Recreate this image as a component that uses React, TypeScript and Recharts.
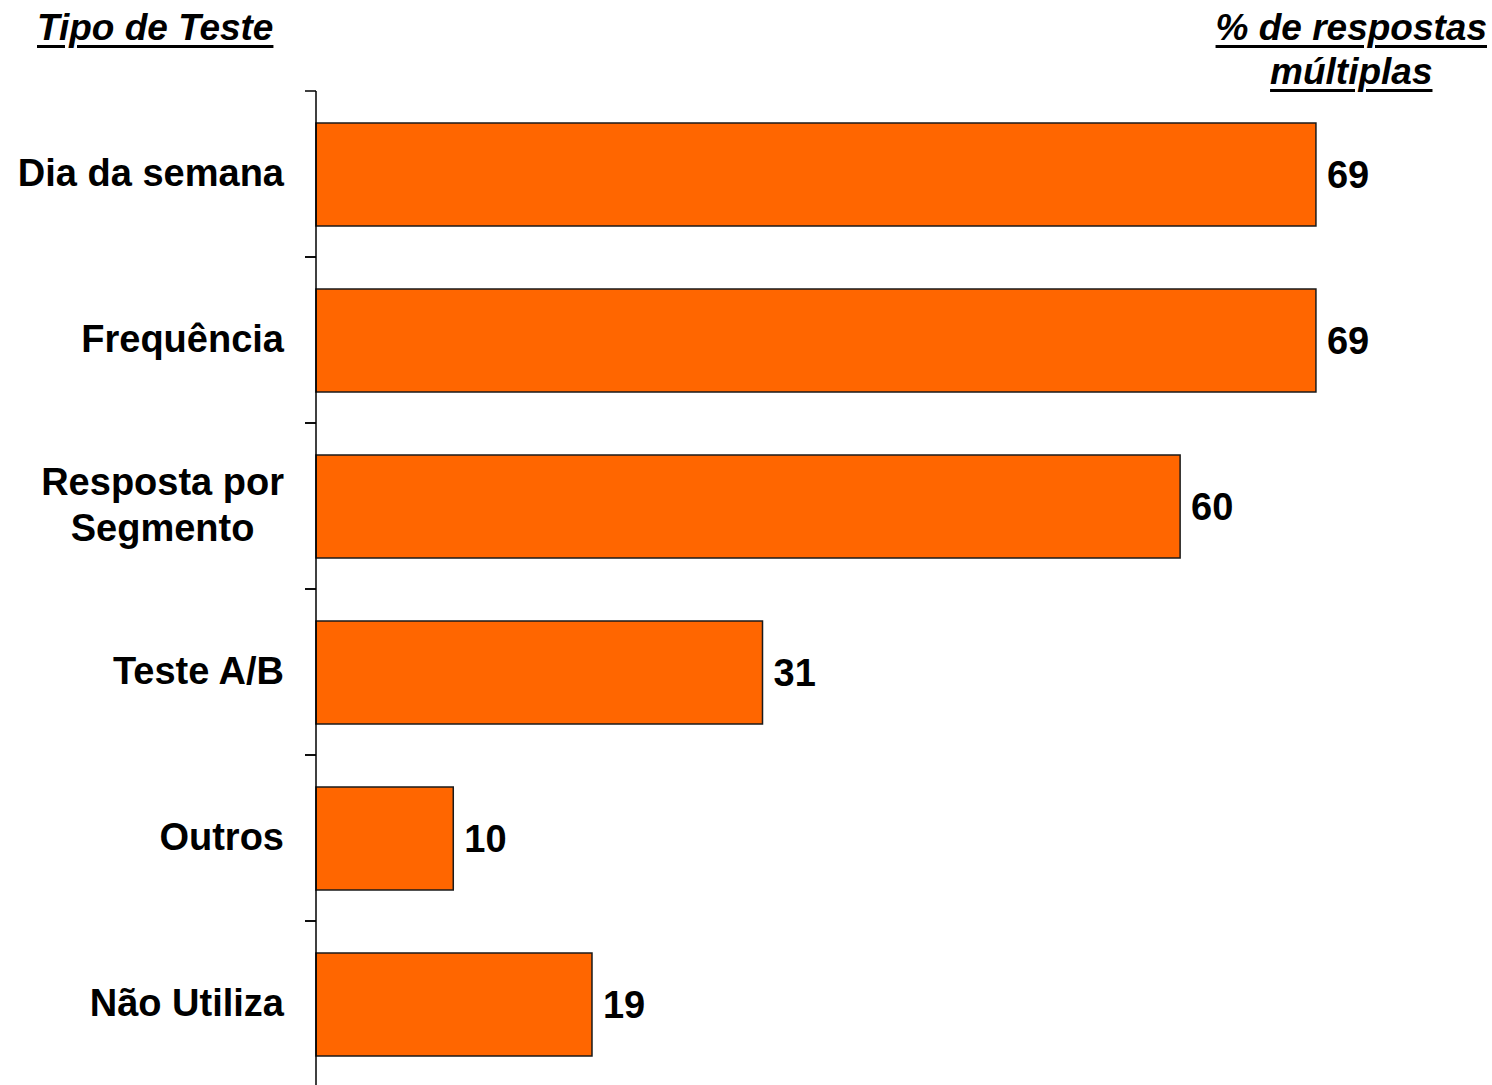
import { BarChart, Bar, XAxis, YAxis, LabelList } from "recharts";

const categories = ["Dia da semana", "Frequência", "Resposta por\nSegmento", "Teste A/B", "Outros", "Não Utiliza"];
// bar lengths, shown values as printed next to the bars
const values = [69.2, 69.2, 59.8, 30.9, 9.5, 19.1];
const shownValues = [69, 69, 60, 31, 10, 19];

const data = categories.map((name, i) => ({ name, value: values[i], shown: shownValues[i] }));

const FONT = '"Liberation Sans", Arial, sans-serif';
const W = 1492;
const H = 1100;
const TOP = 91;
const BOTTOM = 13;
const AXIS_X = 316;
const BAND = (H - TOP - BOTTOM) / categories.length;

let ctx: CanvasRenderingContext2D | null = null;
function textWidth(s: string) {
  if (!ctx) ctx = document.createElement("canvas").getContext("2d");
  if (!ctx) return s.length * 20;
  ctx.font = `bold 38px ${FONT}`;
  return ctx.measureText(s).width;
}

function CategoryTick({ x, y, payload }: any) {
  const lines = String(payload.value).split("\n");
  const boundary = (
    <>
      <line x1={AXIS_X - 11} x2={AXIS_X} y1={y - BAND / 2} y2={y - BAND / 2} stroke="#000" strokeWidth={1.5} />
      <line x1={AXIS_X - 11} x2={AXIS_X} y1={y + BAND / 2} y2={y + BAND / 2} stroke="#000" strokeWidth={1.5} />
    </>
  );
  if (lines.length === 1) {
    return (
      <g>
        {boundary}
        <text x={x} y={y + 12} textAnchor="end" fontSize={38} fontWeight="bold" fontFamily={FONT} fill="#000">
          {lines[0]}
        </text>
      </g>
    );
  }
  const w = Math.max(...lines.map(textWidth));
  const cx = x - w / 2;
  const lh = 46;
  const first = y + 12 - ((lines.length - 1) * lh) / 2;
  return (
    <g>
      {boundary}
      {lines.map((l, i) => (
        <text key={i} x={cx} y={first + i * lh} textAnchor="middle" fontSize={38} fontWeight="bold" fontFamily={FONT} fill="#000">
          {l}
        </text>
      ))}
    </g>
  );
}

const titleStyle: React.CSSProperties = {
  position: "absolute",
  fontFamily: FONT,
  fontSize: 37,
  fontWeight: "bold",
  fontStyle: "italic",
  textDecoration: "underline",
  textDecorationThickness: 3,
  textUnderlineOffset: 5,
  lineHeight: "44px",
  color: "#000",
  whiteSpace: "nowrap",
};

export default function App() {
  return (
    <div style={{ position: "absolute", left: 0, top: 0, width: W, height: 1085, overflow: "hidden", background: "#fff" }}>
      <div style={{ ...titleStyle, left: 37, top: 6 }}>Tipo de Teste</div>
      <div style={{ ...titleStyle, right: 5, top: 6, textAlign: "center" }}>
        % de respostas
        <br />
        múltiplas
      </div>
      <div style={{ position: "absolute", left: 0, top: 0 }}>
        <BarChart width={W} height={H} data={data} layout="vertical" margin={{ top: TOP, right: 20, bottom: BOTTOM, left: 0 }}>
          <XAxis type="number" domain={[0, 80]} hide />
          <YAxis
            type="category"
            dataKey="name"
            width={AXIS_X}
            tickLine={false}
            tickSize={11}
            tickMargin={21}
            axisLine={{ stroke: "#000", strokeWidth: 1.5 }}
            tick={<CategoryTick />}
            interval={0}
          />
          <Bar dataKey="value" fill="#FF6600" stroke="#1a1a1a" strokeWidth={1.5} barSize={103} isAnimationActive={false}>
            <LabelList dataKey="shown" position="right" offset={11} fontSize={38} fontWeight="bold" fontFamily={FONT} fill="#000" />
          </Bar>
        </BarChart>
      </div>
    </div>
  );
}
